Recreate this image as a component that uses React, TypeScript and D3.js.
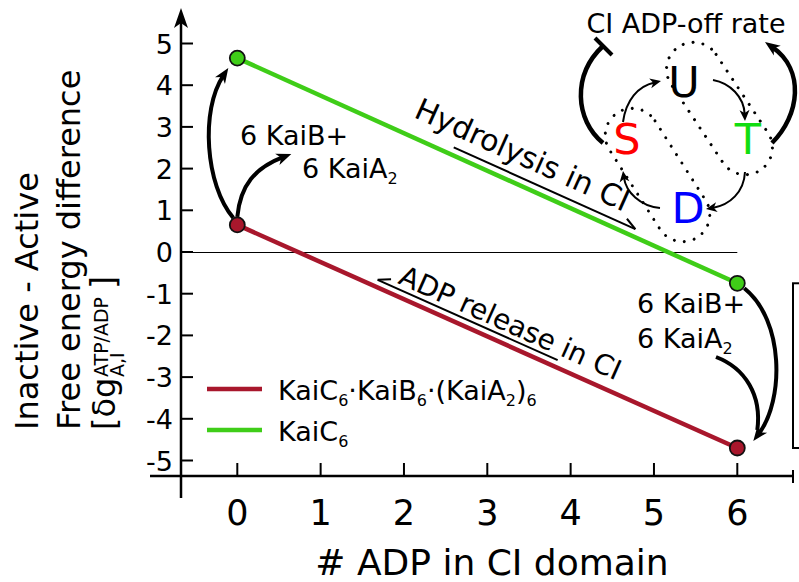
import React from "react";
import * as d3 from "d3";

// ---- data ----
const adpCounts = [0, 6];
const kaiC6 = [4.65, -0.75];
const kaiComplex = [0.65, -4.7];
const xTicks = [0, 1, 2, 3, 4, 5, 6];
const yTicks = [5, 4, 3, 2, 1, 0, -1, -2, -3, -4, -5];
const seriesColors = { complex: "#a8172c", kaiC: "#3fcd18" };

const W = 799;
const H = 582;
const FONT = "'DejaVu Sans', 'Bitstream Vera Sans', sans-serif";

const x = d3.scaleLinear().domain([0, 6]).range([237.3, 737.3]);
const y = d3.scaleLinear().domain([-5, 5]).range([460.5, 43.5]);

const AXIS_X = 181;
const AXIS_Y = 476;

type Pt = [number, number];

// cubic curve ending in a filled arrowhead at `tip`
function Arrow({ p0, c1, c2, tip, width = 4, len = 15, half = 6 }: { p0: Pt; c1: Pt; c2: Pt; tip: Pt; width?: number; len?: number; half?: number }) {
  const dx = tip[0] - c2[0];
  const dy = tip[1] - c2[1];
  const l = Math.hypot(dx, dy);
  const u = [dx / l, dy / l];
  const n = [-u[1], u[0]];
  const end: Pt = [tip[0] - u[0] * len * 0.6, tip[1] - u[1] * len * 0.6];
  const body = d3.path();
  body.moveTo(p0[0], p0[1]);
  body.bezierCurveTo(c1[0], c1[1], c2[0], c2[1], end[0], end[1]);
  const head = d3.path();
  head.moveTo(tip[0], tip[1]);
  head.lineTo(tip[0] - u[0] * len + n[0] * half, tip[1] - u[1] * len + n[1] * half);
  head.lineTo(tip[0] - u[0] * len * 0.72, tip[1] - u[1] * len * 0.72);
  head.lineTo(tip[0] - u[0] * len - n[0] * half, tip[1] - u[1] * len - n[1] * half);
  head.closePath();
  return (
    <g>
      <path d={body.toString()} fill="none" stroke="#000" strokeWidth={width} />
      <path d={head.toString()} fill="#000" stroke="none" />
    </g>
  );
}

// geometry of a series segment in screen space
function segment(vals: number[]) {
  const a: Pt = [x(adpCounts[0]), y(vals[0])];
  const b: Pt = [x(adpCounts[1]), y(vals[1])];
  const ang = Math.atan2(b[1] - a[1], b[0] - a[0]);
  const d = [Math.cos(ang), Math.sin(ang)];
  const up = [Math.sin(ang), -Math.cos(ang)];
  const at = (xv: number, off: number): Pt => {
    const px = x(xv);
    const t = (px - a[0]) / (b[0] - a[0]);
    const py = a[1] + t * (b[1] - a[1]);
    return [px + up[0] * off, py + up[1] * off];
  };
  return { a, b, ang: (ang * 180) / Math.PI, d, up, at };
}

// harpoon running parallel to a series line, barb on the upper side
function Harpoon({ seg, from, to, off, tipAtEnd }: { seg: ReturnType<typeof segment>; from: number; to: number; off: number; tipAtEnd: boolean }) {
  const p = seg.at(from, off);
  const q = seg.at(to, off);
  const tip = tipAtEnd ? q : p;
  const back = tipAtEnd ? -1 : 1;
  const barb: Pt = [tip[0] + back * seg.d[0] * 12 + seg.up[0] * 6, tip[1] + back * seg.d[1] * 12 + seg.up[1] * 6];
  return (
    <g fill="none" stroke="#000" strokeWidth={2}>
      <line x1={p[0]} y1={p[1]} x2={q[0]} y2={q[1]} />
      <line x1={tip[0]} y1={tip[1]} x2={barb[0]} y2={barb[1]} />
    </g>
  );
}

export default function App() {
  const green = segment(kaiC6);
  const red = segment(kaiComplex);
  const line = d3.line<number>().x((_, i) => x(adpCounts[i])).y((v) => y(v));

  const hydroPos = green.at(3.28, 18.5);
  const releasePos = red.at(3.17, 12);

  const g0: Pt = [x(0), y(kaiC6[0])];
  const r0: Pt = [x(0), y(kaiComplex[0])];
  const g6: Pt = [x(6), y(kaiC6[1])];
  const r6: Pt = [x(6), y(kaiComplex[1])];

  return (
    <svg width={W} height={H} viewBox={`0 0 ${W} ${H}`} style={{ position: "absolute", left: 0, top: 0, background: "#fff" }} fontFamily={FONT}>
      <rect x={0} y={0} width={W} height={H} fill="#fff" />

      {/* y axis */}
      <line x1={AXIS_X} y1={22} x2={AXIS_X} y2={498} stroke="#000" strokeWidth={2.5} />
      <path d={`M${AXIS_X},8 L${AXIS_X - 7},28 L${AXIS_X},23 L${AXIS_X + 7},28 Z`} fill="#000" />
      {yTicks.map((t) => (
        <g key={`yt${t}`}>
          <line x1={AXIS_X} x2={AXIS_X + 12} y1={y(t)} y2={y(t)} stroke="#000" strokeWidth={2} />
          <text x={173} y={y(t) + 10} fontSize={27} textAnchor="end">
            {t}
          </text>
        </g>
      ))}

      {/* x axis */}
      <line x1={150} y1={AXIS_Y} x2={793} y2={AXIS_Y} stroke="#000" strokeWidth={2.5} />
      <line x1={793} y1={470} x2={793} y2={483} stroke="#000" strokeWidth={2} />
      {xTicks.map((t) => (
        <g key={`xt${t}`}>
          <line x1={x(t)} x2={x(t)} y1={AXIS_Y} y2={AXIS_Y - 13} stroke="#000" strokeWidth={2} />
          <text x={x(t)} y={525} fontSize={35} textAnchor="middle">
            {t}
          </text>
        </g>
      ))}
      <text x={492} y={575} fontSize={36} textAnchor="middle">
        # ADP in CI domain
      </text>

      {/* y axis title */}
      <text transform="translate(38,430) rotate(-90)" fontSize={32}>
        Inactive - Active
      </text>
      <text transform="translate(80,430) rotate(-90)" fontSize={32}>
        Free energy difference
      </text>
      <g transform="translate(115,430) rotate(-90)">
        <text fontSize={32}>[δg</text>
        <text x={53} y={-7} fontSize={19}>
          ATP/ADP
        </text>
        <text x={53} y={9} fontSize={19}>
          A,I
        </text>
        <text x={141} fontSize={34}>
          ]
        </text>
      </g>

      {/* zero line */}
      <line x1={AXIS_X} x2={x(6)} y1={y(0) + 0.5} y2={y(0) + 0.5} stroke="#000" strokeWidth={1.2} />

      {/* series */}
      <path d={line(kaiComplex) ?? ""} fill="none" stroke={seriesColors.complex} strokeWidth={4.5} />
      <path d={line(kaiC6) ?? ""} fill="none" stroke={seriesColors.kaiC} strokeWidth={4.5} />
      {adpCounts.map((c, i) => (
        <g key={`pt${c}`}>
          <circle cx={x(c)} cy={y(kaiComplex[i])} r={7.5} fill={seriesColors.complex} stroke="#111" strokeWidth={1.8} />
          <circle cx={x(c)} cy={y(kaiC6[i])} r={7.5} fill={seriesColors.kaiC} stroke="#111" strokeWidth={1.8} />
        </g>
      ))}

      {/* along-line annotations */}
      <text transform={`translate(${hydroPos[0]},${hydroPos[1]}) rotate(${green.ang})`} fontSize={30} textAnchor="middle">
        Hydrolysis in CI
      </text>
      <Harpoon seg={green} from={2.56} to={4.74} off={7.5} tipAtEnd={true} />
      <text transform={`translate(${releasePos[0]},${releasePos[1]}) rotate(${red.ang})`} fontSize={28} textAnchor="middle">
        ADP release in CI
      </text>
      <Harpoon seg={red} from={1.65} to={3.81} off={7} tipAtEnd={false} />

      {/* binding of KaiB + KaiA at 0 ADP */}
      <Arrow p0={[r0[0] - 4, r0[1] - 7]} c1={[r0[0] - 32, r0[1] - 40]} c2={[g0[0] - 37, g0[1] + 52]} tip={[g0[0] - 9, g0[1] + 10]} width={4} len={15} half={6} />
      <Arrow p0={[r0[0], r0[1] - 8]} c1={[r0[0] + 3, r0[1] - 40]} c2={[r0[0] + 18, r0[1] - 57]} tip={[r0[0] + 54, r0[1] - 71]} width={4} len={15} half={6} />
      <text x={240} y={145} fontSize={27}>
        6 KaiB+
      </text>
      <text x={302} y={178} fontSize={27}>
        6 KaiA<tspan dy={6} fontSize={16}>2</tspan>
      </text>

      {/* binding at 6 ADP */}
      <Arrow p0={[g6[0] + 7, g6[1] + 5]} c1={[g6[0] + 47, g6[1] + 37]} c2={[r6[0] + 47, r6[1] - 48]} tip={[r6[0] + 16, r6[1] - 7]} width={4} len={15} half={6} />
      <path d={`M716,357 C745,368 762,395 ${r6[0] + 20},${r6[1] - 18}`} fill="none" stroke="#000" strokeWidth={4} />
      <text x={637} y={313} fontSize={27}>
        6 KaiB+
      </text>
      <text x={637} y={348} fontSize={27}>
        6 KaiA<tspan dy={6} fontSize={16}>2</tspan>
      </text>

      {/* energy gap bracket */}
      <g stroke="#000" strokeWidth={2}>
        <line x1={793} x2={793} y1={g6[1]} y2={r6[1]} />
        <line x1={792} x2={806} y1={g6[1]} y2={g6[1]} />
        <line x1={792} x2={806} y1={r6[1]} y2={r6[1]} />
      </g>

      {/* legend */}
      <line x1={207} x2={262} y1={389} y2={389} stroke={seriesColors.complex} strokeWidth={4.5} />
      <text x={278} y={400} fontSize={27}>
        KaiC<tspan dy={6} fontSize={16}>6</tspan>
        <tspan dy={-6}>·KaiB</tspan>
        <tspan dy={6} fontSize={16}>6</tspan>
        <tspan dy={-6}>·(KaiA</tspan>
        <tspan dy={6} fontSize={16}>2</tspan>
        <tspan dy={-6}>)</tspan>
        <tspan dy={6} fontSize={16}>6</tspan>
      </text>
      <line x1={207} x2={262} y1={430} y2={430} stroke={seriesColors.kaiC} strokeWidth={4.5} />
      <text x={278} y={441} fontSize={27}>
        KaiC<tspan dy={6} fontSize={16}>6</tspan>
      </text>

      {/* phosphorylation cycle */}
      <text x={686} y={33} fontSize={27} textAnchor="middle">
        CI ADP-off rate
      </text>
      <g fill="none" stroke="#000" strokeWidth={3} strokeDasharray="0 10" strokeLinecap="round">
        <rect x={-74} y={-27} width={148} height={54} rx={27} transform="translate(719.5,108.5) rotate(56.5)" />
        <rect x={-74} y={-27} width={148} height={54} rx={27} transform="translate(657.5,175) rotate(57.5)" />
      </g>
      <text x={684} y={97} fontSize={43} textAnchor="middle" fill="#000">
        U
      </text>
      <text x={627} y={154} fontSize={43} textAnchor="middle" fill="#ff0000">
        S
      </text>
      <text x={748} y={154} fontSize={43} textAnchor="middle" fill="#11dd11">
        T
      </text>
      <text x={688} y={223} fontSize={43} textAnchor="middle" fill="#0000ff">
        D
      </text>
      <Arrow p0={[623, 122]} c1={[626, 100]} c2={[638, 86]} tip={[661, 81]} width={2} len={11} half={5} />
      <Arrow p0={[713, 80]} c1={[730, 83]} c2={[744, 97]} tip={[745, 121]} width={2} len={11} half={5} />
      <Arrow p0={[745, 172]} c1={[744, 192]} c2={[730, 205]} tip={[706, 209]} width={2} len={11} half={5} />
      <Arrow p0={[660, 208]} c1={[640, 206]} c2={[626, 192]} tip={[623, 171]} width={2} len={11} half={5} />

      {/* inhibition by S, activation by T */}
      <path d="M603,143 C575,120 572,75 603,46" fill="none" stroke="#000" strokeWidth={4.5} />
      <line x1={595} y1={38} x2={612} y2={55} stroke="#000" strokeWidth={4} />
      <Arrow p0={[772, 143]} c1={[800, 115]} c2={[805, 70]} tip={[765, 42]} width={4.5} len={15} half={6} />
    </svg>
  );
}
